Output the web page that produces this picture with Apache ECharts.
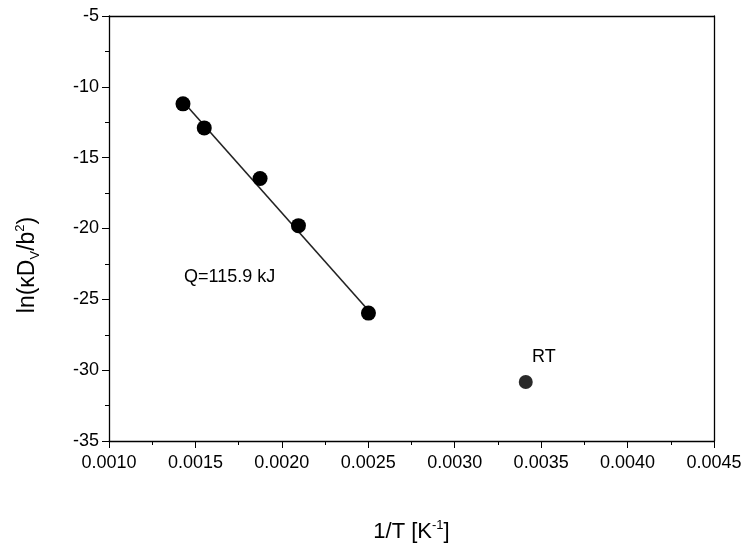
<!DOCTYPE html>
<html>
<head>
<meta charset="utf-8">
<script src="https://cdn.jsdelivr.net/npm/echarts@6/dist/echarts.min.js"></script>
<style>html,body{margin:0;background:#fff}#c{width:747px;height:548px}</style>
</head>
<body>
<div id="c"></div>
<script>
// 数据
const invT = [0.001428, 0.001551, 0.001874, 0.002096, 0.002501];
const lnD = [-11.2, -12.9, -16.47, -19.8, -25.97];
const fitX = [0.001428, 0.0025];
const fitY = [-11.04, -25.77];
const rtPoint = [0.003411, -30.84];
const xTicks = ['0.0010', '0.0015', '0.0020', '0.0025', '0.0030', '0.0035', '0.0040', '0.0045'];

const F = 'Liberation Sans, Arial, sans-serif';
const axisCommon = {
  axisLine: { show: true, lineStyle: { color: '#000', width: 1.3 } },
  axisTick: { inside: false, length: 7, lineStyle: { color: '#000' } },
  minorTick: { show: true, splitNumber: 2, length: 4, lineStyle: { color: '#000' } },
  splitLine: { show: false },
  axisLabel: { color: '#000', fontSize: 18, fontFamily: F },
};

const chart = echarts.init(document.getElementById('c'));
chart.setOption({
  animation: false,
  grid: { left: 109, right: 33, top: 16, bottom: 107 },
  xAxis: [{
    ...axisCommon, type: 'value', min: 0.001, max: 0.0045, interval: 0.0005,
    axisLabel: { ...axisCommon.axisLabel, margin: 13, formatter: (v) => xTicks[Math.round((v - 0.001) / 0.0005)] },
    name: '{a|1/T [K}{s|-1}{a|]}', nameLocation: 'middle', nameGap: 78,
    nameTextStyle: { rich: { a: { fontSize: 22, fontFamily: F, color: '#000' }, s: { fontSize: 13, fontFamily: F, color: '#000', verticalAlign: 'top', padding: [0, 0, 12, 0] } } },
  }, {
    type: 'value', position: 'top', min: 0.001, max: 0.0045,
    axisLine: { show: true, onZero: false, lineStyle: { color: '#000', width: 1.3 } },
    axisTick: { show: false }, axisLabel: { show: false }, splitLine: { show: false },
  }],
  yAxis: [{
    ...axisCommon, type: 'value', min: -35, max: -5, interval: 5,
    axisLabel: { ...axisCommon.axisLabel, margin: 10 },
  }, {
    type: 'value', position: 'right', min: -35, max: -5,
    axisLine: { show: true, onZero: false, lineStyle: { color: '#000', width: 1.3 } },
    axisTick: { show: false }, axisLabel: { show: false }, splitLine: { show: false },
  }],
  graphic: [{
    type: 'text', x: 28, y: 265, rotation: Math.PI / 2, originX: 0, originY: 0,
    style: {
      text: '{a|ln(κD}{b|V}{a|/b}{c|2}{a|)}', align: 'center', verticalAlign: 'middle',
      rich: {
        a: { fontSize: 23, fontFamily: F, fill: '#000' },
        b: { fontSize: 13, fontFamily: F, fill: '#000', padding: [14, 0, 0, 0] },
        c: { fontSize: 13, fontFamily: F, fill: '#000', padding: [0, 0, 16, 0] },
      },
    },
  }, {
    type: 'text', x: 184, y: 268,
    style: { text: 'Q=115.9 kJ', fontSize: 18, fontFamily: F, fill: '#000' },
  }, {
    type: 'text', x: 532, y: 348,
    style: { text: 'RT', fontSize: 18, fontFamily: F, fill: '#000' },
  }],
  series: [{
    type: 'line', data: fitX.map((x, i) => [x, fitY[i]]), symbol: 'none',
    lineStyle: { color: '#222', width: 1.6 }, z: 2,
  }, {
    type: 'scatter', data: invT.map((x, i) => [x, lnD[i]]), symbolSize: 15,
    itemStyle: { color: '#000', opacity: 1 }, z: 3,
  }, {
    type: 'scatter', data: [rtPoint], symbolSize: 14,
    itemStyle: { color: '#2a2a2a', opacity: 1 }, z: 3,
  }],
});
</script>
</body>
</html>
